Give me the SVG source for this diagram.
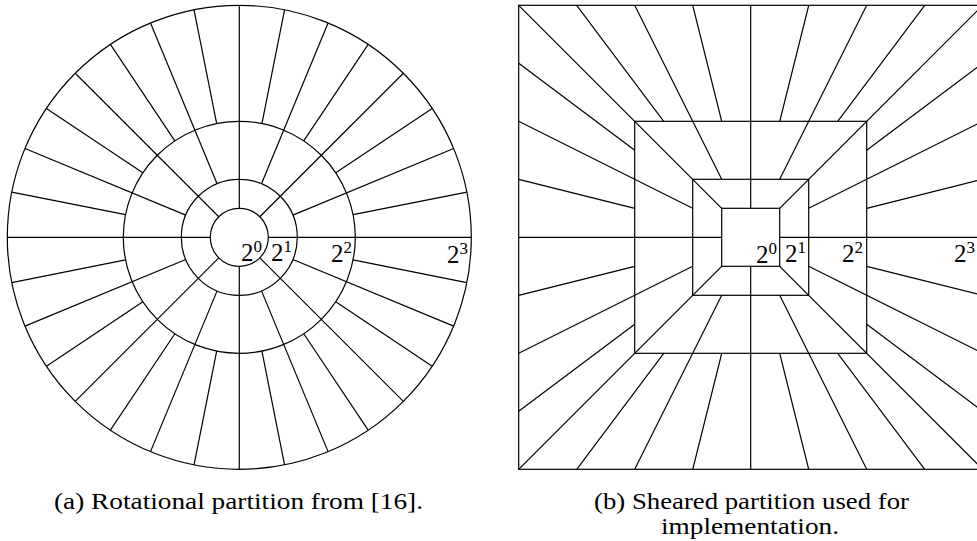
<svg xmlns="http://www.w3.org/2000/svg" width="977" height="541" viewBox="0 0 977 541">
  <style>
    .ln { fill: none; stroke: #000; stroke-width: 1.2; }
    .lbl { font-family: "Liberation Serif", serif; font-size: 25px; fill: #000; text-anchor: end; }
    .sup { font-size: 17px; }
    .cap { font-family: "Liberation Serif", serif; font-size: 23px; fill: #000; }
  </style>
  <defs>
    <!-- one quarter of the polar grid: rays every 11.25 degrees,
         starting on ring 1, 2 or 3 depending on their level -->
    <g id="rot-quadrant" class="ln">
      <line x1="29" y1="0" x2="232" y2="0"/>
      <line x1="113.771" y1="22.630" x2="227.542" y2="45.261"/>
      <line x1="53.585" y1="22.196" x2="214.340" y2="88.782"/>
      <line x1="96.451" y1="64.446" x2="192.901" y2="128.892"/>
      <line x1="20.506" y1="20.506" x2="164.049" y2="164.049"/>
      <line x1="64.446" y1="96.451" x2="128.892" y2="192.901"/>
      <line x1="22.196" y1="53.585" x2="88.782" y2="214.340"/>
      <line x1="22.630" y1="113.771" x2="45.261" y2="227.542"/>
    </g>
    <!-- one side of the square grid: rays through the centre,
         evenly spaced along each square edge, plus one corner diagonal -->
    <g id="shear-side" class="ln">
      <line x1="29" y1="0" x2="232" y2="0"/>
      <line x1="116" y1="29" x2="232" y2="58"/>
      <line x1="116" y1="-29" x2="232" y2="-58"/>
      <line x1="58" y1="29" x2="232" y2="116"/>
      <line x1="58" y1="-29" x2="232" y2="-116"/>
      <line x1="116" y1="87" x2="232" y2="174"/>
      <line x1="116" y1="-87" x2="232" y2="-174"/>
      <line x1="29" y1="29" x2="232" y2="232"/>
    </g>
  </defs>

  <!-- (a) rotational partition -->
  <g id="rotational" transform="translate(239.3 237.3)">
    <g id="rot-rings" class="ln">
      <circle r="29"/>
      <circle r="58"/>
      <circle r="116"/>
      <circle r="232"/>
    </g>
    <g id="rot-rays">
      <use href="#rot-quadrant"/>
      <use href="#rot-quadrant" transform="rotate(90)"/>
      <use href="#rot-quadrant" transform="rotate(180)"/>
      <use href="#rot-quadrant" transform="rotate(270)"/>
    </g>
  </g>
  <g id="rot-labels">
    <text class="lbl" x="262" y="261">2<tspan class="sup" dy="-9">0</tspan></text>
    <text class="lbl" x="292" y="261">2<tspan class="sup" dy="-9">1</tspan></text>
    <text class="lbl" x="352" y="262">2<tspan class="sup" dy="-9">2</tspan></text>
    <text class="lbl" x="468" y="263">2<tspan class="sup" dy="-9">3</tspan></text>
  </g>

  <!-- (b) sheared partition -->
  <g id="sheared" transform="translate(750.7 237.3)">
    <g id="shear-squares" class="ln">
      <rect x="-29" y="-29" width="58" height="58"/>
      <rect x="-58" y="-58" width="116" height="116"/>
      <rect x="-116" y="-116" width="232" height="232"/>
      <rect x="-232" y="-232" width="464" height="464"/>
    </g>
    <g id="shear-rays">
      <use href="#shear-side"/>
      <use href="#shear-side" transform="rotate(90)"/>
      <use href="#shear-side" transform="rotate(180)"/>
      <use href="#shear-side" transform="rotate(270)"/>
    </g>
  </g>
  <g id="shear-labels">
    <text class="lbl" x="777" y="263">2<tspan class="sup" dy="-9">0</tspan></text>
    <text class="lbl" x="806" y="262">2<tspan class="sup" dy="-9">1</tspan></text>
    <text class="lbl" x="863" y="262">2<tspan class="sup" dy="-9">2</tspan></text>
    <text class="lbl" x="975" y="262">2<tspan class="sup" dy="-9">3</tspan></text>
  </g>

  <!-- captions -->
  <g id="captions">
    <text class="cap" x="54" y="509" textLength="369" lengthAdjust="spacingAndGlyphs">(a) Rotational partition from [16].</text>
    <text class="cap" x="594" y="509" textLength="315" lengthAdjust="spacingAndGlyphs">(b) Sheared partition used for</text>
    <text class="cap" x="661" y="534" textLength="178" lengthAdjust="spacingAndGlyphs">implementation.</text>
  </g>
</svg>
